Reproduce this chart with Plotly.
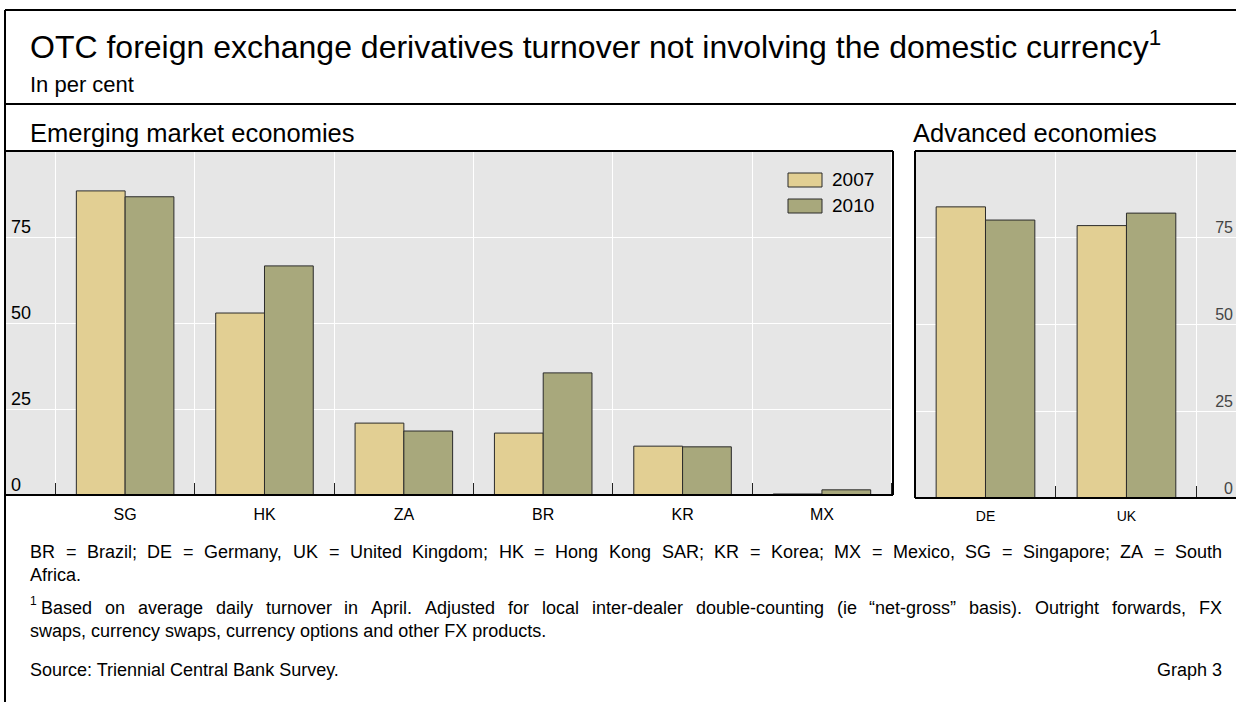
import plotly.graph_objects as go

W, H = 1236, 702

# ---- data ----
em_categories = ["SG", "HK", "ZA", "BR", "KR", "MX"]
em_2007 = [88.4, 52.9, 20.9, 18.0, 14.2, 0.3]
em_2010 = [86.7, 66.6, 18.6, 35.5, 14.0, 1.5]
adv_categories = ["DE", "UK"]
adv_2007 = [83.9, 78.5]
adv_2010 = [80.1, 82.1]
y_ticks = [0, 25, 50, 75]
y_tick_labels = ["0", "25", "50", "75"]
series_names = ["2007", "2010"]

title_text = "OTC foreign exchange derivatives turnover not involving the domestic currency"
subtitle_text = "In per cent"
panel_titles = ["Emerging market economies", "Advanced economies"]
note_line1 = "BR = Brazil; DE = Germany, UK = United Kingdom; HK = Hong Kong SAR; KR = Korea; MX = Mexico, SG = Singapore; ZA = South"
note_line2 = "Africa."
foot_line1 = "Based on average daily turnover in April. Adjusted for local inter-dealer double-counting (ie \u201cnet-gross\u201d basis). Outright forwards, FX"
foot_line2 = "swaps, currency swaps, currency options and other FX products."
source_text = "Source: Triennial Central Bank Survey."
graph_no = "Graph 3"

# ---- styles ----
colors = ["#e2cf93", "#a8a87c"]
edge = "#2b2b2b"
FONT = "Liberation Sans, Arial, sans-serif"
FOOT = 18

# Arial / Liberation Sans advance widths (per 1000 em) for justification
AW = {" ": 278, "(": 333, ")": 333, ",": 278, "-": 333, ".": 278, ":": 278, ";": 278,
      "=": 584, "\u201c": 333, "\u201d": 333,
      "A": 667, "B": 667, "C": 722, "D": 722, "E": 667, "F": 611, "G": 778, "H": 722,
      "I": 278, "J": 500, "K": 667, "L": 556, "M": 833, "N": 722, "O": 778, "P": 667,
      "Q": 778, "R": 722, "S": 667, "T": 611, "U": 722, "V": 667, "W": 944, "X": 667,
      "Y": 667, "Z": 611,
      "a": 556, "b": 556, "c": 500, "d": 556, "e": 556, "f": 278, "g": 556, "h": 556,
      "i": 222, "j": 222, "k": 500, "l": 222, "m": 833, "n": 556, "o": 556, "p": 556,
      "q": 556, "r": 333, "s": 500, "t": 278, "u": 556, "v": 500, "w": 722, "x": 500,
      "y": 500, "z": 500}


def tw(s, size):
    return sum(AW.get(c, 556) for c in s) * size / 1000.0


def px(x):
    return x / W


def py(y):
    return 1 - y / H


fig = go.Figure()
for name, vals, col in zip(series_names, [em_2007, em_2010], colors):
    fig.add_trace(go.Bar(x=em_categories, y=vals, name=name,
                         marker=dict(color=col, line=dict(color=edge, width=1)),
                         xaxis="x", yaxis="y", showlegend=False))
for name, vals, col in zip(series_names, [adv_2007, adv_2010], colors):
    fig.add_trace(go.Bar(x=adv_categories, y=vals, name=name,
                         marker=dict(color=col, line=dict(color=edge, width=1)),
                         xaxis="x2", yaxis="y2", showlegend=False))

common_x = dict(type="category", tickson="boundaries", ticks="inside", ticklen=12,
                tickcolor="#222", tickwidth=1, showgrid=True, gridcolor="white",
                gridwidth=1, showline=False, zeroline=False, fixedrange=True)
common_y = dict(range=[0, 100], tickvals=y_ticks, ticktext=y_tick_labels,
                showgrid=True, gridcolor="white", gridwidth=1, zeroline=False,
                showline=False, ticks="", fixedrange=True)

fig.update_layout(
    width=W, height=H, autosize=False,
    margin=dict(l=0, r=0, t=0, b=0),
    paper_bgcolor="white", plot_bgcolor="#e6e6e6",
    barmode="group", bargap=0.3, bargroupgap=0,
    font=dict(family=FONT, color="black"),
    showlegend=False,
    xaxis=dict(domain=[px(5), px(893)], range=[-0.862, 5.51], anchor="y",
               tickfont=dict(size=16), ticklabelstandoff=8, **common_x),
    yaxis=dict(domain=[py(495), py(151)], anchor="x", side="left",
               showticklabels=False, **common_y),
    xaxis2=dict(domain=[px(915), 1.0], range=[-0.5, 1.777], anchor="y2",
                tickfont=dict(size=14), ticklabelstandoff=8, **common_x),
    yaxis2=dict(domain=[py(498), py(151)], anchor="x2", side="right",
                ticklabelposition="inside", ticklabelshift=-10,
                tickfont=dict(size=16), **common_y),
)

shapes = []


def line(x0, y0, x1, y1, w=2):
    shapes.append(dict(type="line", xref="paper", yref="paper",
                       x0=px(x0), y0=py(y0), x1=px(x1), y1=py(y1),
                       line=dict(color="black", width=w)))


# outer frame
line(5, 702, 5, 10)
line(5, 10, 1236, 10)
line(5, 104, 1236, 104)
# left panel box
line(5, 151, 893, 151)
line(893, 151, 893, 495)
line(5, 495, 893, 495)
# right panel box
line(915, 151, 915, 498)
line(915, 151, 1236, 151)
line(915, 498, 1236, 498)

# legend swatches
for i, (name, col) in enumerate(zip(series_names, colors)):
    y0 = 173 + i * 26
    shapes.append(dict(type="rect", xref="paper", yref="paper",
                       x0=px(788), x1=px(822), y0=py(y0), y1=py(y0 + 14),
                       fillcolor=col, line=dict(color=edge, width=1)))

fig.update_layout(shapes=shapes)

ann = []


def text(x, y, s, size, anchor="left"):
    ann.append(dict(xref="paper", yref="paper", x=px(x), y=py(y), text=s,
                    showarrow=False, xanchor=anchor, yanchor="middle",
                    borderpad=0, borderwidth=0,
                    font=dict(size=size, family=FONT, color="black")))


def justified(x0, x1, y, s, size):
    words = s.split(" ")
    total = sum(tw(w, size) for w in words)
    gap = (x1 - x0 - total) / (len(words) - 1)
    x = x0
    for w in words:
        text(x, y, w, size)
        x += tw(w, size) + gap


# left-panel y tick labels (inside, above the grid line), placed on the y scale
for v, lab in zip(y_ticks, y_tick_labels):
    ann.append(dict(xref="paper", yref="y", x=px(11), y=v, text=lab,
                    showarrow=False, xanchor="left", yanchor="middle", yshift=10,
                    borderpad=0, borderwidth=0,
                    font=dict(size=18, family=FONT, color="black")))

text(30, 45, title_text + "<sup>1</sup>", 32)
text(30, 84, subtitle_text, 22)
text(30, 133, panel_titles[0], 25.5)
text(913, 133, panel_titles[1], 25.5)
for i, name in enumerate(series_names):
    text(832, 180 + i * 26, name, 19)

justified(30, 1222, 552, note_line1, FOOT)
text(30, 575, note_line2, FOOT)
text(30, 601, "1", 12)
justified(41, 1222, 608, foot_line1, FOOT)
text(30, 631, foot_line2, FOOT)
text(30, 670, source_text, FOOT)
text(1222, 670, graph_no, FOOT, anchor="right")

fig.update_layout(annotations=ann)
fig.write_html("out.html", config={"displayModeBar": False},
               post_script="document.body.style.margin='0px';")
